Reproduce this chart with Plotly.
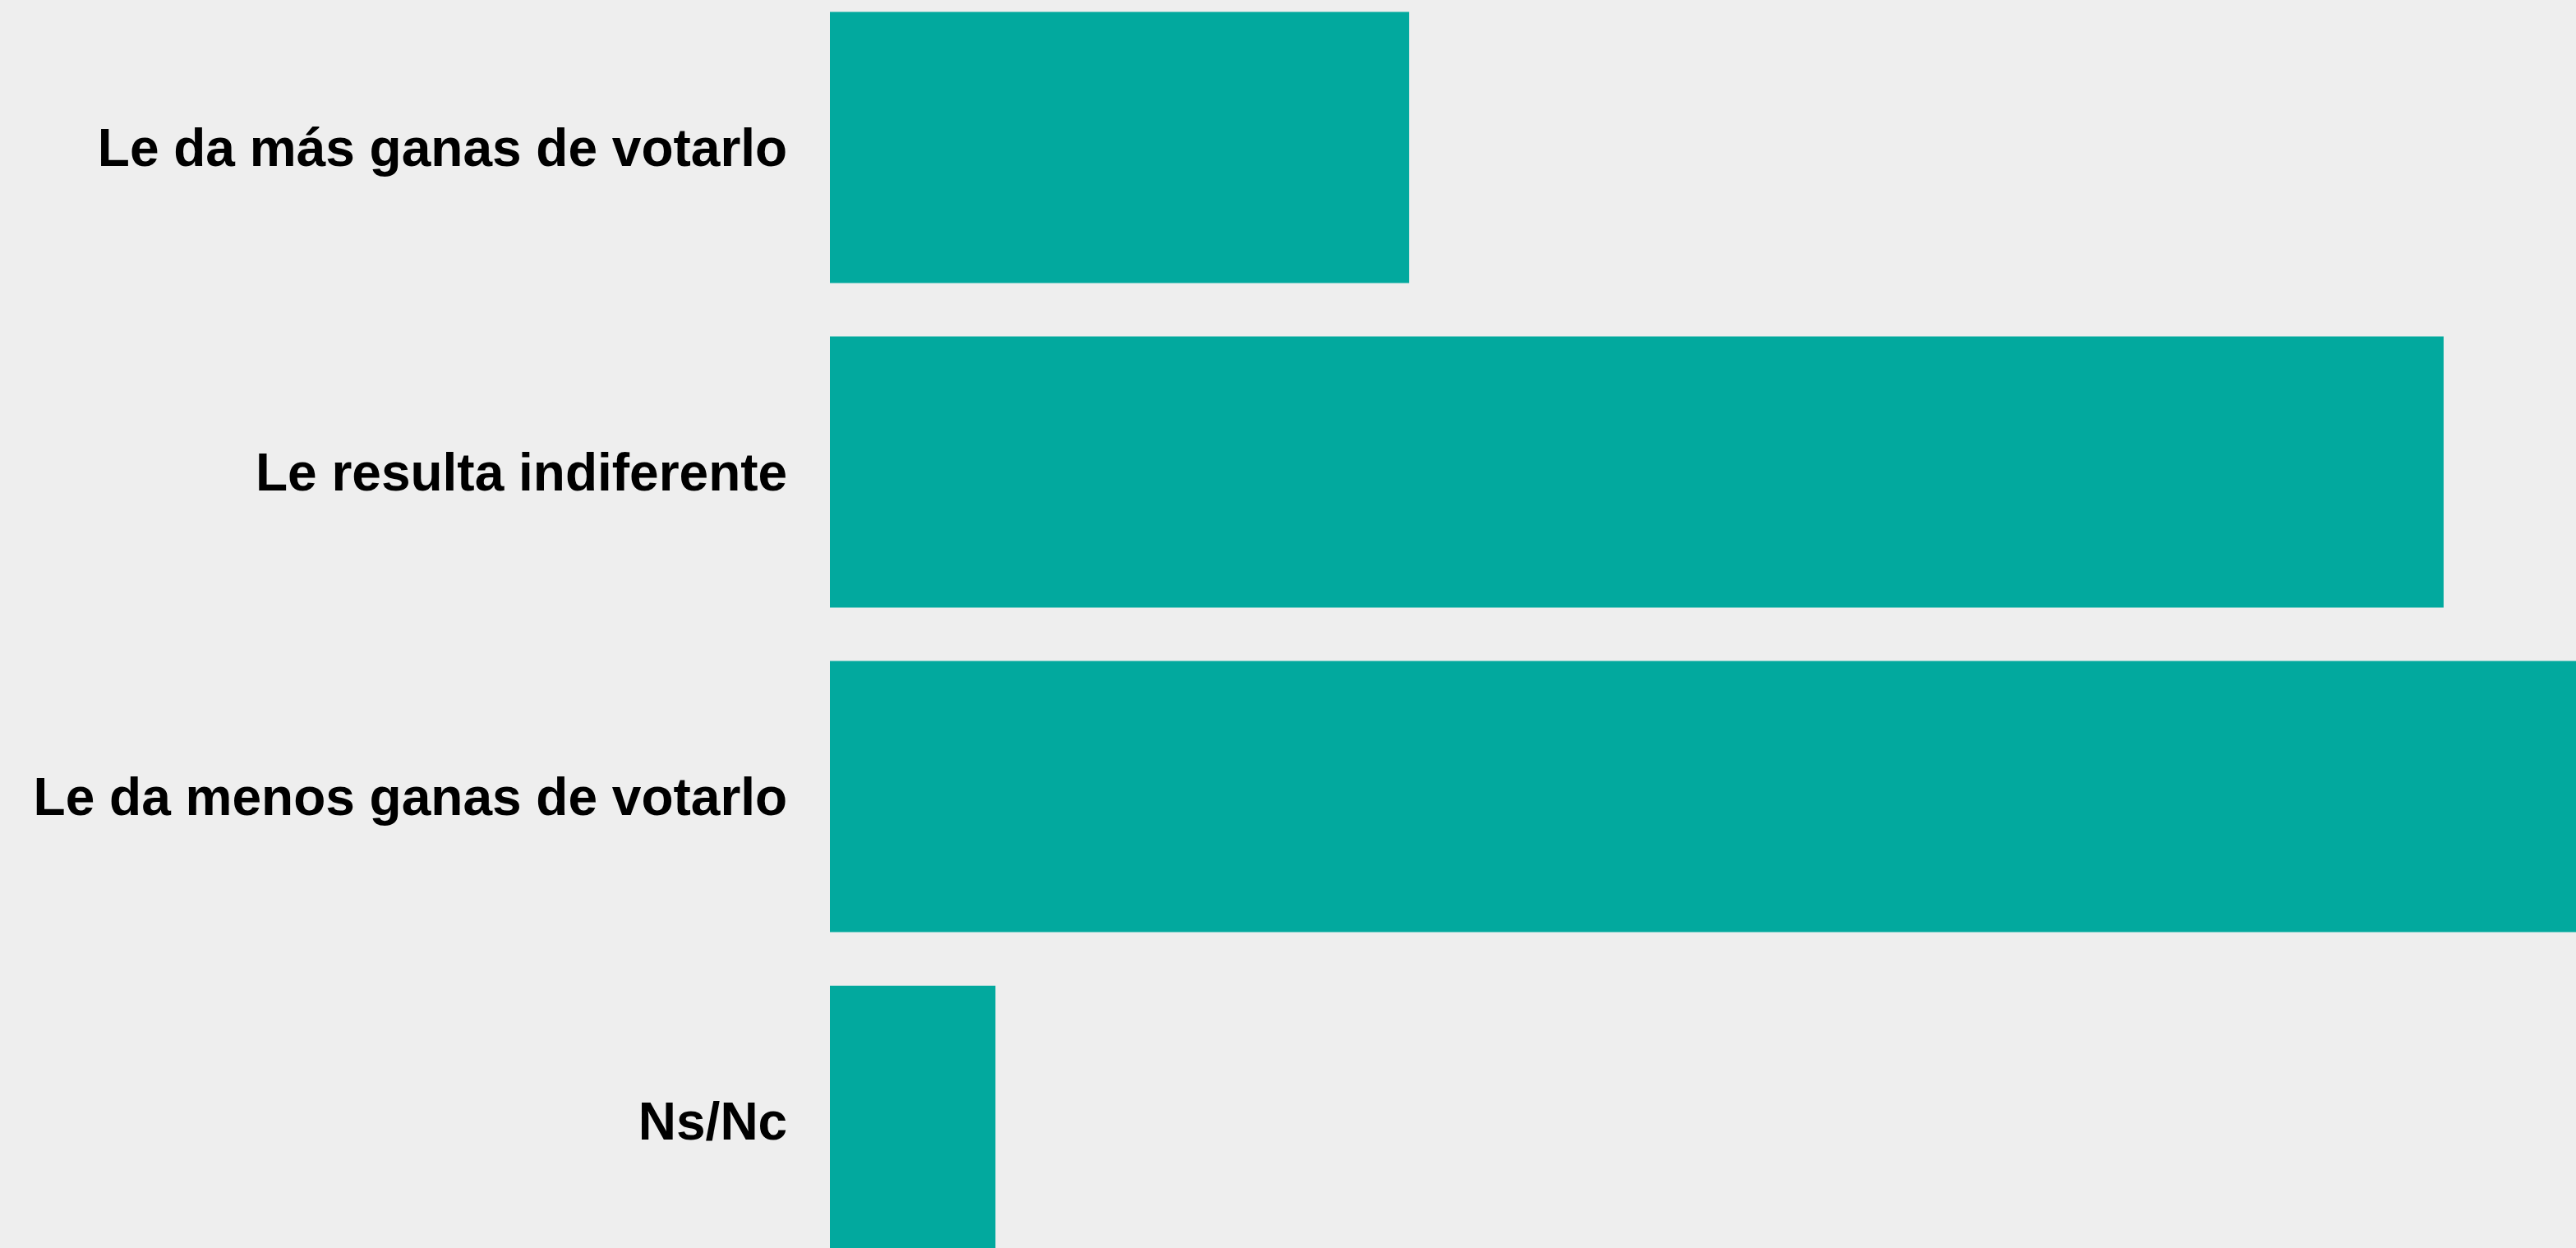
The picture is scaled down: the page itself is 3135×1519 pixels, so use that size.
import plotly.graph_objects as go

categories = ["Le da más ganas de votarlo", "Le resulta indiferente",
              "Le da menos ganas de votarlo", "Ns/Nc"]
values = [14, 39, 43, 4]

fig = go.Figure(go.Bar(
    x=values, y=categories, orientation="h",
    marker=dict(color="#02A99E", line=dict(width=0)),
    hoverinfo="x+y",
))

fig.update_layout(
    width=3135, height=1519,
    margin=dict(l=1010, r=0, t=0, b=0),
    paper_bgcolor="#EEEEEE", plot_bgcolor="#EEEEEE",
    bargap=0.165,
    showlegend=False,
    font=dict(family="Liberation Sans, Arial, sans-serif", color="#000000"),
)
fig.update_xaxes(range=[0, 42.2], visible=False, showgrid=False, zeroline=False)
fig.update_yaxes(
    type="category", categoryorder="array", categoryarray=categories,
    range=[3.391, -0.4544], showgrid=False, zeroline=False, showline=False,
    ticks="outside", ticklen=0, tickcolor="rgba(0,0,0,0)",
    ticklabelstandoff=38,
    tickfont=dict(family="Liberation Sans, Arial, sans-serif", size=64, color="#000000", weight="bold"),
)

fig.write_html("out.html", config={"displayModeBar": False})

with open("out.html", "r", encoding="utf-8") as f:
    html = f.read()
html = html.replace("<head>", "<head><style>html,body{margin:0;padding:0;overflow:hidden;background:#EEEEEE;}</style>", 1)
with open("out.html", "w", encoding="utf-8") as f:
    f.write(html)
